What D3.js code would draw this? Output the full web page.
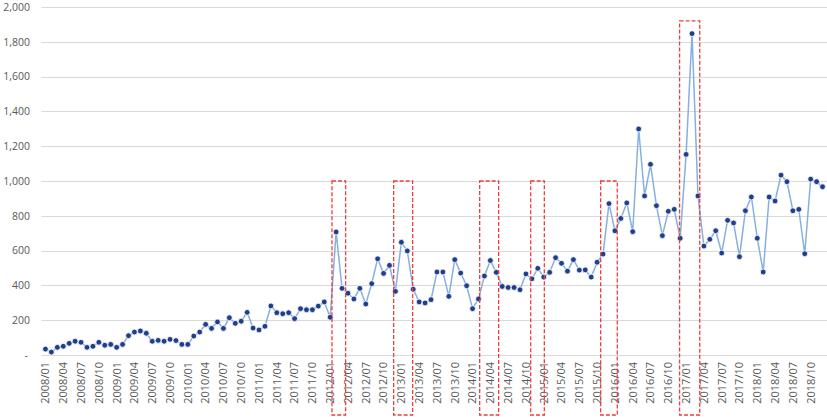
<!DOCTYPE html>
<html>
<head>
<meta charset="utf-8">
<script src="https://cdn.jsdelivr.net/npm/d3@7/dist/d3.min.js"></script>
<style>
  html, body { margin: 0; padding: 0; background: #fff; }
  svg { display: block; }
  text { font-family: "Open Sans", "DejaVu Sans", sans-serif; fill: #595959; }
</style>
</head>
<body>
<svg id="chart" width="827" height="418"></svg>
<script>
// ---- data ----
const startYear = 2008, endYear = 2018;
const categories = [];
for (let yr = startYear; yr <= endYear; yr++)
  for (let m = 1; m <= 12; m++) categories.push(yr + "/" + String(m).padStart(2, "0"));

const values = [
  34, 17, 44, 50, 67, 79, 73, 44, 50, 73, 56, 61,
  44, 61, 111, 132, 138, 125, 79, 84, 79, 90, 83, 61,
  61, 109, 132, 176, 153, 190, 153, 214, 182, 194, 245, 155,
  144, 165, 282, 243, 237, 243, 209, 266, 260, 260, 281, 305,
  217, 707, 383, 355, 322, 383, 293, 410, 553, 469, 515, 366,
  648, 598, 378, 305, 299, 318, 477, 477, 337, 548, 471, 398,
  266, 322, 454, 543, 475, 394, 388, 388, 375, 466, 438, 498,
  448, 475, 559, 527, 482, 548, 488, 489, 448, 533, 580, 870,
  714, 785, 874, 709, 1299, 914, 1096, 858, 686, 826, 837, 671,
  1153, 1847, 914, 626, 665, 714, 586, 774, 759, 565, 829, 908,
  671, 477, 908, 885, 1034, 996, 829, 837, 582, 1011, 996, 967
];

const xTickLabels = categories.filter((d, i) => i % 3 === 0);
const yTicks = [0, 200, 400, 600, 800, 1000, 1200, 1400, 1600, 1800, 2000];

// highlighted periods (in category-index units) and their top value
const highlightStart = [48.8, 59.2, 73.7, 82.3, 94.1, 107.4];
const highlightEnd   = [51.1, 62.4, 76.9, 84.6, 96.9, 110.8];
const highlightTop   = [1000, 1000, 1000, 1000, 1000, 1920];

// ---- layout ----
const svg = d3.select("#chart");
const padL = 42.5, padR = 825.5, padT = 7, padB = 355;

const x = d3.scaleBand().domain(categories).range([padL, padR]).paddingInner(0).paddingOuter(0);
const xi = d3.scaleLinear().domain([0, categories.length]).range([padL, padR]);
const y = d3.scaleLinear().domain([0, 2000]).range([padB, padT]);
const cx = d => x(d) + x.bandwidth() / 2;

// gridlines
svg.append("g")
  .selectAll("line").data(yTicks).join("line")
  .attr("x1", padL - 1).attr("x2", 827)
  .attr("y1", d => Math.round(y(d)) + 0.5).attr("y2", d => Math.round(y(d)) + 0.5)
  .attr("stroke", "#d9d9d9").attr("stroke-width", 1);

// y axis labels
const yAxis = d3.axisLeft(y).tickValues(yTicks).tickSize(0).tickPadding(0)
  .tickFormat(d => d === 0 ? "-" : d3.format(",")(d));
const ya = svg.append("g").attr("transform", "translate(30,0)").call(yAxis);
ya.select(".domain").remove();
ya.selectAll("text").attr("font-size", 10.5).attr("fill", "#595959")
  .style("font-family", "'Open Sans', sans-serif");
ya.selectAll(".tick").filter(d => d === 0).select("text").attr("dx", -2);

// x axis labels
const xAxis = d3.axisBottom(x).tickValues(xTickLabels).tickSize(0).tickPadding(0);
const xa = svg.append("g").attr("transform", `translate(0,${padB})`).call(xAxis);
xa.select(".domain").remove();
xa.selectAll("text")
  .attr("font-size", 11).attr("fill", "#595959")
  .style("font-family", "'Open Sans', sans-serif")
  .attr("text-anchor", "end")
  .attr("transform", "rotate(-90)")
  .attr("x", -7).attr("y", 0).attr("dy", "0.35em");

// line
const line = d3.line().x((d, i) => cx(categories[i])).y(d => y(d));
svg.append("path").datum(values)
  .attr("d", line).attr("fill", "none")
  .attr("stroke", "#85b0e0").attr("stroke-width", 1.5);

// markers
svg.append("g").selectAll("circle").data(values).join("circle")
  .attr("cx", (d, i) => cx(categories[i])).attr("cy", d => y(d))
  .attr("r", 2.9).attr("fill", "#1f3f8c")
  .attr("stroke", "#ffffff").attr("stroke-width", 0.8);

// highlight boxes
svg.append("g").selectAll("rect").data(highlightStart).join("rect")
  .attr("x", (d) => xi(d))
  .attr("width", (d, i) => xi(highlightEnd[i]) - xi(d))
  .attr("y", (d, i) => y(highlightTop[i]))
  .attr("height", (d, i) => 415 - y(highlightTop[i]))
  .attr("fill", "none").attr("stroke", "#f03c3c")
  .attr("stroke-width", 1.3).attr("stroke-dasharray", "4,2");
</script>
</body>
</html>
